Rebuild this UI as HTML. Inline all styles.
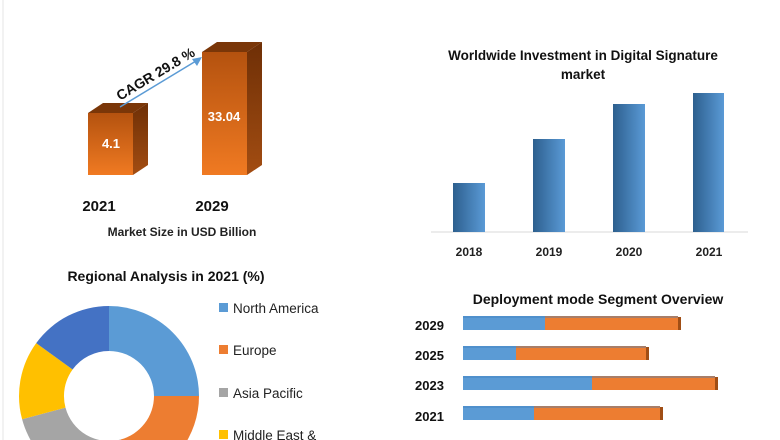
<!DOCTYPE html>
<html><head><meta charset="utf-8"><style>
html,body{margin:0;padding:0;background:#fff;width:780px;height:440px;overflow:hidden;}
svg{display:block;font-family:"Liberation Sans",Calibri,sans-serif;}
</style></head><body>
<svg width="780" height="440" viewBox="0 0 780 440" xmlns="http://www.w3.org/2000/svg">
<defs>
<linearGradient id="of" x1="0" y1="0" x2="0" y2="1"><stop offset="0" stop-color="#b4520f"/><stop offset="1" stop-color="#f07a22"/></linearGradient>
<linearGradient id="os" x1="0" y1="0" x2="0" y2="1"><stop offset="0" stop-color="#6e2f06"/><stop offset="1" stop-color="#a34d12"/></linearGradient>
<linearGradient id="bb" x1="0" y1="0" x2="1" y2="0"><stop offset="0" stop-color="#2d5f8e"/><stop offset="1" stop-color="#5a9ad6"/></linearGradient>
</defs>
<line x1="3" y1="0" x2="3" y2="440" stroke="#e6e6e6"/>
<polygon points="88,113 103,103 148,103 133,113" fill="#7a3608"/>
<polygon points="133,113 148,103 148,165 133,175" fill="url(#os)"/>
<rect x="88" y="113" width="45" height="62" fill="url(#of)"/>
<polygon points="202,52 217,42 262,42 247,52" fill="#7a3608"/>
<polygon points="247,52 262,42 262,165 247,175" fill="url(#os)"/>
<rect x="202" y="52" width="45" height="123" fill="url(#of)"/>
<text x="111" y="148" fill="#fff" font-size="13" font-weight="bold" text-anchor="middle">4.1</text>
<text x="224" y="121" fill="#fff" font-size="13" font-weight="bold" text-anchor="middle">33.04</text>
<line x1="120" y1="107" x2="196" y2="61" stroke="#5b9bd5" stroke-width="1.5"/>
<polygon points="202,57 192,59 197,66" fill="#5b9bd5"/>
<text x="0" y="0" transform="translate(158,78) rotate(-31)" font-size="14" font-weight="bold" fill="#111" text-anchor="middle">CAGR 29.8 %</text>
<text x="99" y="211" font-size="15" font-weight="bold" fill="#111" text-anchor="middle">2021</text>
<text x="212" y="211" font-size="15" font-weight="bold" fill="#111" text-anchor="middle">2029</text>
<text x="182" y="236" font-size="12" font-weight="bold" fill="#222" text-anchor="middle">Market Size in USD Billion</text>
<text x="583" y="60" font-size="13.5" font-weight="bold" fill="#111" text-anchor="middle">Worldwide Investment in Digital Signature</text>
<text x="583" y="79" font-size="13.5" font-weight="bold" fill="#111" text-anchor="middle">market</text>
<line x1="431" y1="232" x2="748" y2="232" stroke="#d9d9d9"/>
<rect x="453" y="183" width="32" height="49" fill="url(#bb)"/>
<rect x="533" y="139" width="32" height="93" fill="url(#bb)"/>
<rect x="613" y="104" width="32" height="128" fill="url(#bb)"/>
<rect x="693" y="93" width="31" height="139" fill="url(#bb)"/>
<g font-size="12" font-weight="bold" fill="#222" text-anchor="middle">
<text x="469" y="256">2018</text><text x="549" y="256">2019</text><text x="629" y="256">2020</text><text x="709" y="256">2021</text></g>
<text x="166" y="281" font-size="14" font-weight="bold" fill="#111" text-anchor="middle">Regional Analysis in 2021 (%)</text>
<g transform="translate(109,396)">
<path d="M0,-90 A90,90 0 0 1 90,0 L45,0 A45,45 0 0 0 0,-45Z" fill="#5b9bd5"/>
<path d="M90,0 A90,90 0 0 1 23.3,86.9 L11.6,43.5 A45,45 0 0 0 45,0Z" fill="#ed7d31"/>
<path d="M23.3,86.9 A90,90 0 0 1 -86.9,23.3 L-43.5,11.6 A45,45 0 0 0 11.6,43.5Z" fill="#a5a5a5"/>
<path d="M-86.9,23.3 A90,90 0 0 1 -72.8,-52.9 L-36.4,-26.5 A45,45 0 0 0 -43.5,11.6Z" fill="#ffc000"/>
<path d="M-72.8,-52.9 A90,90 0 0 1 0,-90 L0,-45 A45,45 0 0 0 -36.4,-26.5Z" fill="#4472c4"/>
</g>
<g font-size="13.5" fill="#222">
<rect x="219" y="303" width="9" height="9" fill="#5b9bd5"/><text x="233" y="313">North America</text>
<rect x="219" y="345" width="9" height="9" fill="#ed7d31"/><text x="233" y="355">Europe</text>
<rect x="219" y="388" width="9" height="9" fill="#a5a5a5"/><text x="233" y="398">Asia Pacific</text>
<rect x="219" y="430" width="9" height="9" fill="#ffc000"/><text x="233" y="440">Middle East &amp;</text>
</g>
<text x="598" y="304" font-size="14" font-weight="bold" fill="#111" text-anchor="middle">Deployment mode Segment Overview</text>
<g font-size="13" font-weight="bold" fill="#111">
<text x="415" y="330">2029</text><text x="415" y="360">2025</text><text x="415" y="390">2023</text><text x="415" y="421">2021</text></g>
<g>
<rect x="463" y="316" width="82" height="14" fill="#5b9bd5"/><rect x="545" y="316" width="133" height="14" fill="#ed7d31"/><rect x="678" y="317" width="3" height="13" fill="#a04e15"/>
<rect x="463" y="346" width="53" height="14" fill="#5b9bd5"/><rect x="516" y="346" width="130" height="14" fill="#ed7d31"/><rect x="646" y="347" width="3" height="13" fill="#a04e15"/>
<rect x="463" y="376" width="129" height="14" fill="#5b9bd5"/><rect x="592" y="376" width="123" height="14" fill="#ed7d31"/><rect x="715" y="377" width="3" height="13" fill="#a04e15"/>
<rect x="463" y="406" width="71" height="14" fill="#5b9bd5"/><rect x="534" y="406" width="126" height="14" fill="#ed7d31"/><rect x="660" y="407" width="3" height="13" fill="#a04e15"/>
<rect x="463" y="316" width="215" height="2" fill="#3f7fbf" opacity="0.4"/>
<rect x="463" y="346" width="183" height="2" fill="#3f7fbf" opacity="0.4"/>
<rect x="463" y="376" width="252" height="2" fill="#3f7fbf" opacity="0.4"/>
<rect x="463" y="406" width="197" height="2" fill="#3f7fbf" opacity="0.4"/>
</g>
</svg>
</body></html>
